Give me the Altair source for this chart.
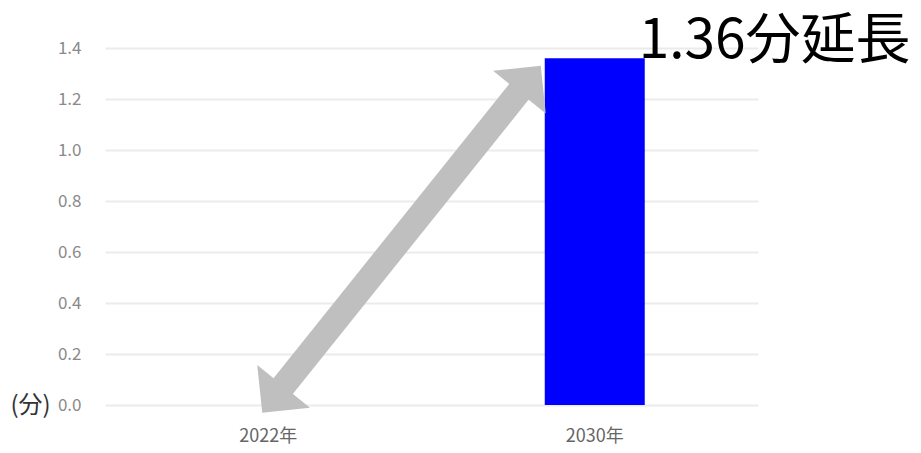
import altair as alt
import pandas as pd

# data
categories = ["2022年", "2030年"]
values = [0.0, 1.36]
annotation = "1.36分延長"
y_ticks = [0, 0.2, 0.4, 0.6, 0.8, 1.0, 1.2, 1.4]

# arrow (annotation) endpoints in data units
arrow_tip_start = -0.03   # at 2022年
arrow_tip_end = 1.33      # at 2030年
shaft_start = 0.05
shaft_end = 1.257

bars_df = pd.DataFrame({"cat": categories, "val": values})
shaft_df = pd.DataFrame({"c0": [categories[0]], "c1": [categories[1]],
                         "y0": [shaft_start], "y1": [shaft_end]})
head_start_df = pd.DataFrame({"cat": [categories[0]], "y": [arrow_tip_start]})
head_end_df = pd.DataFrame({"cat": [categories[1]], "y": [arrow_tip_end]})
label_df = pd.DataFrame({"cat": [categories[1]], "y": [values[1]], "t": [annotation]})

FONT = "Noto Sans CJK JP"
GRAY = "#bfbfbf"
HEAD = "M0,0 L1,1 L-1,1 Z"

x_enc = alt.X("cat:N", sort=categories, title=None,
              scale=alt.Scale(paddingInner=0.0, paddingOuter=0.0),
              axis=alt.Axis(labelAngle=0, labelFont=FONT, labelFontSize=18,
                            labelColor="#666666", labelPadding=22,
                            ticks=False, domain=False, grid=False))
y_scale = alt.Scale(domain=[0, 1.4], nice=False)

bars = alt.Chart(bars_df).mark_bar(color="#0000ff", size=100).encode(
    x=x_enc,
    y=alt.Y("val:Q", scale=y_scale, title="(分)",
            axis=alt.Axis(values=y_ticks, format=".1f", labelFont=FONT,
                          labelFontSize=17, labelColor="#8a8a8a", labelPadding=24,
                          ticks=False, domain=False, gridColor="#ebebeb",
                          gridWidth=2, titleAngle=0, titleX=-95, titleY=357,
                          titleAlign="left", titleBaseline="middle",
                          titleFont=FONT, titleFontSize=24,
                          titleFontWeight="normal", titleColor="#333333")),
)

shaft = alt.Chart(shaft_df).mark_rule(color=GRAY, strokeWidth=25, strokeCap="butt",
                                      xOffset=10, x2Offset=-70).encode(
    x=alt.X("c0:N", sort=categories),
    x2="c1:N",
    y=alt.Y("y0:Q", scale=y_scale),
    y2="y1:Q",
)

head_start = alt.Chart(head_start_df).mark_point(
    shape=HEAD, filled=True, color=GRAY, opacity=1, size=4600, angle=219,
    xOffset=-6).encode(
    x=alt.X("cat:N", sort=categories), y=alt.Y("y:Q", scale=y_scale))

head_end = alt.Chart(head_end_df).mark_point(
    shape=HEAD, filled=True, color=GRAY, opacity=1, size=4600, angle=39,
    xOffset=-54).encode(
    x=alt.X("cat:N", sort=categories), y=alt.Y("y:Q", scale=y_scale))

label = alt.Chart(label_df).mark_text(
    align="left", baseline="alphabetic", dx=44, dy=0, font=FONT,
    fontSize=55, color="#000000").encode(
    x=alt.X("cat:N", sort=categories), y=alt.Y("y:Q", scale=y_scale), text="t:N")

chart = alt.layer(bars, shaft, head_start, head_end, label).properties(
    width=653, height=357,
    autosize=alt.AutoSizeParams(type="none"),
    padding={"left": 97, "top": 40, "right": 155, "bottom": 40},
    background="white",
).configure_view(stroke=None)

chart.save("out.html", embed_options={"renderer": "svg", "actions": False})
